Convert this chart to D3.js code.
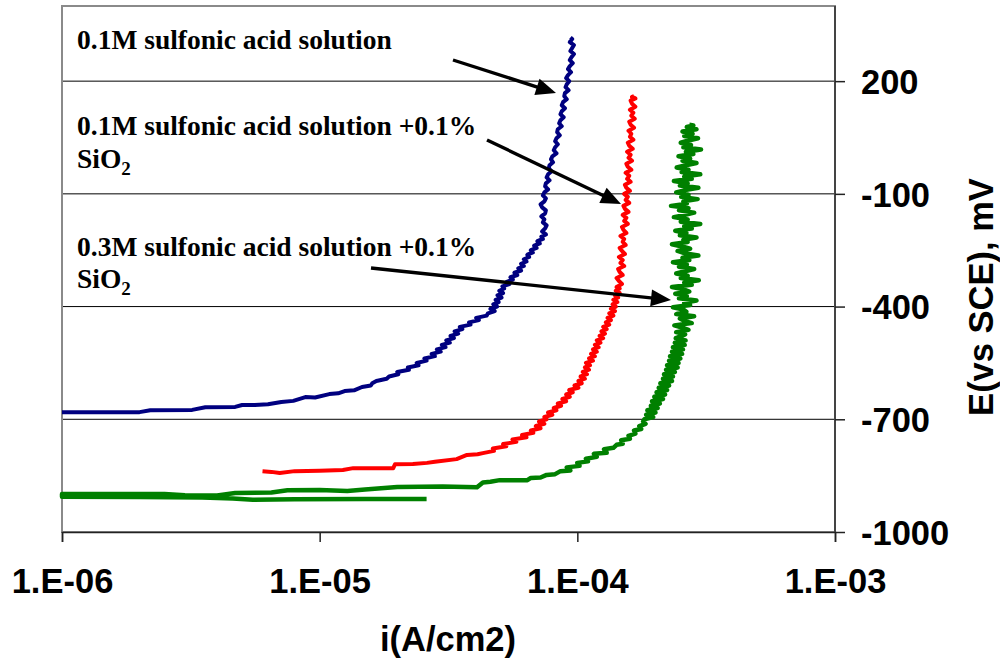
<!DOCTYPE html>
<html>
<head>
<meta charset="utf-8">
<script src="https://cdn.jsdelivr.net/npm/d3@7"></script>
<style>
  html, body { margin: 0; padding: 0; background: #fff; }
  svg { display: block; }
</style>
</head>
<body>
<svg id="chart" width="1000" height="660"></svg>
<script>
// ---------- data (i in A/cm2, E in mV vs SCE) ----------
const xTicks = [1e-6, 1e-5, 1e-4, 1e-3];
const xTickLabels = ["1.E-06", "1.E-05", "1.E-04", "1.E-03"];
const yTicks = [-1000, -700, -400, -100, 200];
const xTitle = "i(A/cm2)";
const yTitle = "E(vs SCE), mV";
const seriesNames = ["0.1M sulfonic acid solution",
                     "0.1M sulfonic acid solution +0.1% SiO2",
                     "0.3M sulfonic acid solution +0.1% SiO2"];
const seriesColors = ["#000080", "#ff0000", "#008000"];

const blue = [
  [1.0e-6,-681],[2.0e-6,-681],[2.2e-6,-676],[3.2e-6,-675],[3.6e-6,-668],[4.7e-6,-667],
  [5.0e-6,-662],[5.6e-6,-662],[6.3e-6,-660],[7.1e-6,-654],[7.9e-6,-651],[8.8e-6,-641],
  [9.6e-6,-642],[1.09e-5,-633],[1.18e-5,-631],[1.25e-5,-625],[1.36e-5,-623],[1.46e-5,-614],
  [1.58e-5,-610],[1.6e-5,-604],
  [1.66e-5,-598],[1.82e-5,-592],[1.86e-5,-586],[2.02e-5,-580],[2.0e-5,-574],[2.22e-5,-568],
  [2.2e-5,-562],[2.42e-5,-556],[2.38e-5,-550],[2.6e-5,-544],[2.55e-5,-538],[2.8e-5,-532],
  [2.72e-5,-526],[2.95e-5,-520],[2.85e-5,-514],[3.08e-5,-508],[2.98e-5,-502],[3.2e-5,-496],
  [3.1e-5,-490],[3.32e-5,-484],[3.22e-5,-478],[3.45e-5,-472],[3.34e-5,-466],[3.58e-5,-460],
  [3.5e-5,-454],[3.85e-5,-448],[3.8e-5,-442],[4.15e-5,-436],[4.05e-5,-430],[4.45e-5,-424],
  [4.5e-5,-418],[4.78e-5,-412],[4.6e-5,-406],[4.88e-5,-400],[4.72e-5,-394],[4.95e-5,-388],
  [4.82e-5,-382],[5.08e-5,-376],[4.9e-5,-370],[5.15e-5,-364],[4.98e-5,-358],[5.2e-5,-352],
  [5.12e-5,-346],[5.45e-5,-340],[5.32e-5,-334],[5.62e-5,-328],[5.5e-5,-322],[5.85e-5,-316],
  [5.7e-5,-310],[6.05e-5,-304],[5.9e-5,-298],[6.2e-5,-292],[6.05e-5,-286],[6.35e-5,-280],
  [6.2e-5,-274],[6.5e-5,-268],[6.4e-5,-262],[6.72e-5,-256],[6.6e-5,-250],[6.95e-5,-244],
  [6.8e-5,-238],[7.15e-5,-232],[7.0e-5,-226],[7.35e-5,-220],[7.25e-5,-214],
  [7.55e-5,-208],[7.3e-5,-200],[7.5e-5,-192],[7.6e-5,-184],[7.35e-5,-176],[7.45e-5,-168],
  [7.25e-5,-160],[7.5e-5,-152],[7.55e-5,-144],[7.3e-5,-136],[7.2e-5,-128],[7.45e-5,-120],
  [7.55e-5,-112],[7.35e-5,-104],[7.45e-5,-96],[7.7e-5,-88],[7.5e-5,-80],[7.55e-5,-72],
  [7.8e-5,-64],[7.6e-5,-56],[7.7e-5,-48],[7.95e-5,-40],[7.75e-5,-32],[7.8e-5,-24],
  [8.05e-5,-16],[7.9e-5,-8],[8.0e-5,0],[8.3e-5,8],[8.1e-5,16],[8.2e-5,24],
  [8.4e-5,32],[8.2e-5,40],[8.3e-5,48],[8.55e-5,56],[8.35e-5,64],[8.4e-5,72],
  [8.7e-5,80],[8.5e-5,88],[8.6e-5,96],[8.85e-5,104],[8.6e-5,112],[8.7e-5,120],
  [8.95e-5,128],[8.7e-5,136],[8.8e-5,144],[9.1e-5,152],[8.9e-5,160],[8.95e-5,168],
  [9.25e-5,176],[9.0e-5,184],[9.1e-5,192],[9.3e-5,200],[9.05e-5,208],[9.2e-5,216],
  [9.45e-5,224],[9.2e-5,232],[9.35e-5,240],[9.6e-5,248],[9.35e-5,256],[9.5e-5,264],
  [9.7e-5,272],[9.4e-5,280],[9.55e-5,288],[9.7e-5,296],[9.35e-5,304],[9.55e-5,312],
  [9.4e-5,316]
];

const red = [
  [6.0e-6,-838],[6.5e-6,-840],[7.0e-6,-843],[8.0e-6,-838],[1.0e-5,-837],[1.23e-5,-835],
  [1.35e-5,-830],[1.93e-5,-830],[1.96e-5,-820],[2.3e-5,-819],[2.61e-5,-816],[2.8e-5,-813],
  [3.4e-5,-806],[3.73e-5,-795],[4.1e-5,-793],
  [4.3e-5,-790],[4.75e-5,-784],[4.7e-5,-778],[5.3e-5,-772],[5.15e-5,-766],[5.8e-5,-760],
  [5.6e-5,-754],[6.35e-5,-748],[6.1e-5,-742],[6.75e-5,-736],[6.6e-5,-730],[7.2e-5,-724],
  [6.9e-5,-718],[7.45e-5,-712],[7.1e-5,-706],[7.6e-5,-700],[7.45e-5,-694],[8.0e-5,-688],
  [7.7e-5,-682],[8.3e-5,-676],[8.1e-5,-670],[8.65e-5,-664],[8.4e-5,-658],[9.05e-5,-652],
  [8.75e-5,-646],[9.35e-5,-640],[9.05e-5,-634],[9.6e-5,-628],[9.3e-5,-622],[1.01e-4,-616],
  [9.75e-5,-610],[1.04e-4,-604],[1.01e-4,-598],[1.07e-4,-592],[1.03e-4,-586],[1.09e-4,-580],
  [1.05e-4,-574],[1.11e-4,-568],[1.07e-4,-562],[1.12e-4,-556],[1.08e-4,-550],[1.15e-4,-544],
  [1.11e-4,-538],[1.17e-4,-532],[1.13e-4,-526],[1.19e-4,-520],[1.15e-4,-514],[1.21e-4,-508],
  [1.17e-4,-502],[1.23e-4,-496],[1.19e-4,-490],[1.26e-4,-484],[1.22e-4,-478],[1.28e-4,-472],
  [1.24e-4,-466],[1.3e-4,-460],[1.26e-4,-454],[1.33e-4,-448],[1.29e-4,-442],[1.35e-4,-436],
  [1.31e-4,-430],[1.38e-4,-424],[1.33e-4,-418],[1.4e-4,-412],[1.35e-4,-406],[1.41e-4,-400],
  [1.37e-4,-394],[1.43e-4,-388],[1.38e-4,-382],[1.44e-4,-376],[1.4e-4,-370],[1.46e-4,-364],
  [1.41e-4,-358],[1.46e-4,-352],
  [1.42e-4,-348],[1.49e-4,-340],[1.45e-4,-332],[1.42e-4,-324],[1.5e-4,-316],[1.46e-4,-308],
  [1.44e-4,-300],[1.52e-4,-292],[1.47e-4,-284],[1.5e-4,-276],[1.45e-4,-268],[1.53e-4,-260],
  [1.49e-4,-252],[1.46e-4,-244],[1.54e-4,-236],[1.5e-4,-228],[1.52e-4,-220],[1.47e-4,-212],
  [1.55e-4,-204],[1.51e-4,-196],[1.49e-4,-188],[1.57e-4,-180],[1.52e-4,-172],[1.55e-4,-164],
  [1.5e-4,-156],[1.58e-4,-148],[1.53e-4,-140],[1.51e-4,-132],[1.59e-4,-124],[1.54e-4,-116],
  [1.57e-4,-108],[1.52e-4,-100],[1.6e-4,-92],[1.55e-4,-84],[1.53e-4,-76],[1.61e-4,-68],
  [1.56e-4,-60],[1.59e-4,-52],[1.54e-4,-44],[1.62e-4,-36],[1.57e-4,-28],[1.55e-4,-20],
  [1.63e-4,-12],[1.58e-4,-4],[1.61e-4,4],[1.56e-4,12],[1.64e-4,20],[1.59e-4,28],
  [1.57e-4,36],[1.65e-4,44],[1.6e-4,52],[1.62e-4,60],[1.58e-4,68],[1.66e-4,76],
  [1.61e-4,84],[1.59e-4,92],[1.67e-4,100],[1.62e-4,108],[1.65e-4,116],[1.6e-4,124],
  [1.68e-4,132],[1.63e-4,140],[1.61e-4,148],[1.68e-4,154],[1.63e-4,158],[1.66e-4,160]
];

const green = [
  [2.6e-5,-912],[1.5e-5,-912],[8.0e-6,-913],[5.5e-6,-914],[4.6e-6,-911],[3.5e-6,-908],
  [2.0e-6,-907],[1.0e-6,-906],[1.0e-6,-899],[2.5e-6,-899],[3.0e-6,-902],[4.0e-6,-903],
  [4.7e-6,-896],[6.5e-6,-895],[7.5e-6,-889],[1.0e-5,-888],[1.28e-5,-891],[1.5e-5,-887],
  [2.0e-5,-880],[3.0e-5,-879],[4.08e-5,-881],[4.3e-5,-868],[4.6e-5,-866],[5.0e-5,-862],
  [6.4e-5,-862],[6.6e-5,-856],[7.2e-5,-855],[7.6e-5,-848],[8.2e-5,-846],[8.6e-5,-838],
  [9.4e-5,-836],[9.1e-5,-828],[1.02e-4,-824],[1.0e-4,-816],[1.1e-4,-812],[1.08e-4,-805],
  [1.19e-4,-800],[1.16e-4,-792],[1.3e-4,-789],[1.27e-4,-780],[1.38e-4,-776],[1.42e-4,-768],
  [1.5e-4,-765],[1.48e-4,-756],[1.6e-4,-752],[1.58e-4,-744],[1.68e-4,-738],[1.66e-4,-730],
  [1.77e-4,-726],[1.74e-4,-718],[1.84e-4,-712],[1.8e-4,-706],
  [1.82e-4,-700],[1.97e-4,-694],[1.85e-4,-688],[2.01e-4,-682],[1.87e-4,-676],[2.05e-4,-670],
  [1.93e-4,-664],[2.09e-4,-658],[1.95e-4,-652],[2.15e-4,-646],[1.99e-4,-640],[2.19e-4,-634],
  [2.03e-4,-628],[2.23e-4,-622],[2.07e-4,-616],[2.27e-4,-610],[2.1e-4,-604],[2.33e-4,-598],
  [2.15e-4,-592],[2.35e-4,-586],[2.17e-4,-580],[2.39e-4,-574],[2.21e-4,-568],[2.45e-4,-562],
  [2.23e-4,-556],[2.47e-4,-550],[2.27e-4,-544],[2.51e-4,-538],[2.29e-4,-532],[2.55e-4,-526],
  [2.33e-4,-520],[2.57e-4,-514],[2.35e-4,-508],[2.61e-4,-502],[2.39e-4,-496],[2.63e-4,-490],
  [2.41e-4,-484],
  [2.5e-4,-480],[2.62e-4,-474],[2.42e-4,-468],[2.7e-4,-462],[2.55e-4,-456],[2.38e-4,-450],
  [2.78e-4,-444],[2.6e-4,-438],[2.5e-4,-432],[2.84e-4,-426],[2.42e-4,-420],[2.65e-4,-414],
  [2.58e-4,-408],[2.35e-4,-402],[2.74e-4,-396],[2.6e-4,-390],[2.9e-4,-384],[2.48e-4,-378],
  [2.66e-4,-372],[2.4e-4,-366],[2.72e-4,-360],[2.58e-4,-354],[2.33e-4,-348],[2.78e-4,-342],
  [2.6e-4,-336],[2.96e-4,-330],[2.52e-4,-324],[2.68e-4,-318],[2.42e-4,-312],[2.62e-4,-306],
  [2.84e-4,-300],[2.48e-4,-294],[2.66e-4,-288],[2.35e-4,-282],[2.72e-4,-276],[2.56e-4,-270],
  [2.95e-4,-264],[2.6e-4,-258],[2.45e-4,-252],[2.74e-4,-246],[2.55e-4,-240],[2.33e-4,-234],
  [2.68e-4,-228],[2.58e-4,-222],[2.9e-4,-216],[2.5e-4,-210],[2.65e-4,-204],[2.4e-4,-198],
  [2.78e-4,-192],[2.6e-4,-186],[3.0e-4,-180],[2.52e-4,-174],[2.68e-4,-168],[2.37e-4,-162],
  [2.62e-4,-156],[2.84e-4,-150],[2.48e-4,-144],[2.7e-4,-138],[2.31e-4,-132],[2.66e-4,-126],
  [2.58e-4,-120],[2.93e-4,-114],[2.53e-4,-108],[2.7e-4,-102],[2.42e-4,-96],[2.62e-4,-90],
  [2.95e-4,-84],[2.5e-4,-78],[2.68e-4,-72],[2.37e-4,-66],[2.78e-4,-60],[2.6e-4,-54],
  [3.0e-4,-48],[2.54e-4,-42],[2.7e-4,-36],[2.43e-4,-30],[2.64e-4,-24],[2.9e-4,-18],
  [2.56e-4,-12],[2.74e-4,-6],[2.47e-4,0],[2.82e-4,6],[2.64e-4,12],[3.02e-4,18],
  [2.58e-4,24],[2.76e-4,30],[2.52e-4,36],[2.7e-4,42],[2.94e-4,48],[2.6e-4,54],
  [2.8e-4,60],[2.56e-4,66],[2.9e-4,72],[2.66e-4,78],[2.82e-4,82],[2.72e-4,84]
];

// ---------- layout ----------
const plot = { left: 62, right: 835, top: 6, bottom: 532 };
const sans = "'Liberation Sans', Arial, sans-serif";
const serif = "'Liberation Serif', 'Times New Roman', serif";
const svg = d3.select("#chart");

const x = d3.scaleLog().domain([1e-6, 1e-3]).range([plot.left, plot.right]);
const y = d3.scaleLinear().domain([-1000, 400]).range([plot.bottom, plot.top]);

// gridlines
svg.append("g").selectAll("line")
  .data(yTicks.filter(v => v > -1000))
  .join("line")
  .attr("x1", plot.left).attr("x2", plot.right)
  .attr("y1", d => y(d)).attr("y2", d => y(d))
  .attr("stroke", "#000").attr("stroke-width", 1);

// plot border
svg.append("rect")
  .attr("x", plot.left).attr("y", plot.top)
  .attr("width", plot.right - plot.left).attr("height", plot.bottom - plot.top)
  .attr("fill", "none").attr("stroke", "#8a8a8a").attr("stroke-width", 2);

// series
const line = d3.line().x(d => x(d[0])).y(d => y(d[1]));
const allSeries = [blue, red, green];
const seriesWidths = [4, 4, 4.5];
svg.append("g").selectAll("path")
  .data(allSeries)
  .join("path")
  .attr("d", d => line(d))
  .attr("fill", "none")
  .attr("stroke", (d, i) => seriesColors[i])
  .attr("stroke-width", (d, i) => seriesWidths[i])
  .attr("stroke-linejoin", "round")
  .attr("stroke-linecap", "butt");

// axes
const xAxis = d3.axisBottom(x).tickValues(xTicks)
  .tickFormat((d, i) => xTickLabels[i]).tickSize(10).tickPadding(26.5);
const gx = svg.append("g").attr("transform", `translate(0,${plot.bottom})`).call(xAxis);
gx.select(".domain").attr("stroke", "#222").attr("stroke-width", 1.5);
gx.selectAll(".tick line").attr("stroke", "#222").attr("stroke-width", 1.5);
gx.selectAll("text")
  .attr("font-family", sans)
  .attr("font-weight", "bold").attr("font-size", 34.5).attr("fill", "#000");

const yAxis = d3.axisRight(y).tickValues(yTicks)
  .tickFormat(d => String(d)).tickSize(10).tickPadding(16);
const gy = svg.append("g").attr("transform", `translate(${plot.right},0)`).call(yAxis);
gy.select(".domain").attr("stroke", "#444").attr("stroke-width", 2).attr("d", `M0,${plot.top}V${plot.bottom}`);
gy.selectAll(".tick line").attr("stroke", "#222").attr("stroke-width", 1.5);
gy.selectAll("text")
  .attr("font-family", sans)
  .attr("font-weight", "bold").attr("font-size", 34.5).attr("fill", "#000")
  .attr("dy", "0.36em");

// axis titles
svg.append("text")
  .attr("x", 448).attr("y", 651)
  .attr("text-anchor", "middle")
  .attr("font-family", sans)
  .attr("font-weight", "bold").attr("font-size", 34.5)
  .text(xTitle);

svg.append("text")
  .attr("transform", "translate(993,297) rotate(-90)")
  .attr("text-anchor", "middle")
  .attr("font-family", sans)
  .attr("font-weight", "bold").attr("font-size", 34.5)
  .text(yTitle);

// annotations
function annot(lines, x0, y0, lh) {
  const g = svg.append("g");
  lines.forEach((ln, k) => {
    const t = g.append("text")
      .attr("x", x0).attr("y", y0 + k * lh)
      .attr("font-family", serif).attr("font-weight", "bold").attr("font-size", 27.5)
      .attr("fill", "#000");
    if (ln === "SiO2") {
      t.append("tspan").text("SiO");
      t.append("tspan").attr("font-size", 19).attr("dy", 7).text("2");
    } else {
      t.text(ln);
    }
  });
}
annot(["0.1M sulfonic acid solution"], 77, 49, 33);
annot(["0.1M sulfonic acid solution +0.1%", "SiO2"], 77, 135, 33);
annot(["0.3M sulfonic acid solution +0.1%", "SiO2"], 77, 256, 32);

// arrows
const arrows = [
  [[453, 60], [556, 93]],
  [[487, 140], [621, 204]],
  [[371, 268], [671, 300]]
];
arrows.forEach(([a, b]) => {
  const dx = b[0] - a[0], dy = b[1] - a[1];
  const L = Math.hypot(dx, dy), ux = dx / L, uy = dy / L;
  const hl = 20, hw = 8.5;
  const bx = b[0] - ux * hl, by = b[1] - uy * hl;
  svg.append("line")
    .attr("x1", a[0]).attr("y1", a[1]).attr("x2", bx + ux * 2).attr("y2", by + uy * 2)
    .attr("stroke", "#000").attr("stroke-width", 3.4);
  svg.append("path")
    .attr("d", `M${b[0]},${b[1]}L${bx - uy * hw},${by + ux * hw}L${bx + uy * hw},${by - ux * hw}Z`)
    .attr("fill", "#000");
});
</script>
</body>
</html>
